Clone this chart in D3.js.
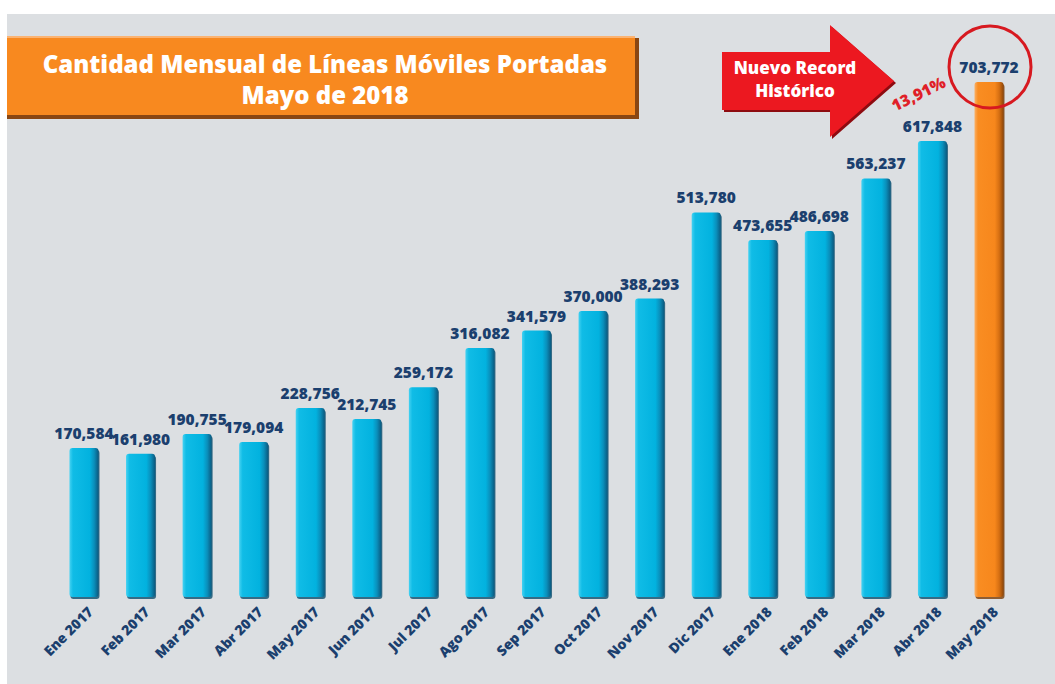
<!DOCTYPE html>
<html>
  <head>
    <meta charset="utf-8">
    <title>Cantidad Mensual de Líneas Móviles Portadas</title>
    <script src="https://d3js.org/d3.v7.min.js"></script>
    <style>
      body { margin: 0; background: #fff; }
      text { font-family: "Open Sans", "DejaVu Sans", sans-serif; font-weight: 800; }
    </style>
  </head>
  <body>
    <div id="chart"></div>
    <script>
      // datos
      var meses = ["Ene 2017", "Feb 2017", "Mar 2017", "Abr 2017", "May 2017", "Jun 2017",
                   "Jul 2017", "Ago 2017", "Sep 2017", "Oct 2017", "Nov 2017", "Dic 2017",
                   "Ene 2018", "Feb 2018", "Mar 2018", "Abr 2018", "May 2018"];
      var lineas = [170584, 161980, 190755, 179094, 228756, 212745, 259172, 316082, 341579,
                    370000, 388293, 513780, 473655, 486698, 563237, 617848, 703772];
      var titulo = ["Cantidad Mensual de Líneas Móviles Portadas", "Mayo de 2018"];
      var flecha = ["Nuevo Record", "Histórico"];
      var variacion = "13,91%";

      var W = 1055, H = 684;
      var piso = 597;

      var svg = d3.select("#chart")
        .append("svg")
        .attr("width", W)
        .attr("height", H);

      var defs = svg.append("defs");

      function degradado(id, stops) {
        var g = defs.append("linearGradient").attr("id", id)
          .attr("x1", "0").attr("x2", "1").attr("y1", "0").attr("y2", "0");
        stops.forEach(function(s) {
          g.append("stop").attr("offset", s[0]).attr("stop-color", s[1]);
        });
      }
      degradado("azul", [["0", "#45d2f2"], ["0.12", "#10bce6"], ["0.7", "#02b2df"], ["0.85", "#0a8fbb"], ["1", "#0b5a80"]]);
      degradado("naranja", [["0", "#fbb065"], ["0.12", "#f98d22"], ["0.7", "#f7871c"], ["0.85", "#d66f12"], ["1", "#8e4608"]]);

      // fondo
      svg.append("rect")
        .attr("x", 7).attr("y", 14)
        .attr("width", W - 7).attr("height", H - 14)
        .attr("fill", "#dcdfe2");

      var x = d3.scaleBand()
        .domain(meses)
        .range([55.7, 1017.3])
        .paddingInner(0.487)
        .paddingOuter(0.2435);

      var y = d3.scaleLinear()
        .domain([0, d3.max(lineas)])
        .range([565, 82]);

      var datos = meses.map(function(m, i) { return { mes: m, valor: lineas[i], ultimo: i === meses.length - 1 }; });

      // sombra de las barras
      svg.selectAll("rect.sombra")
        .data(datos)
        .enter()
        .append("rect")
        .attr("class", "sombra")
        .attr("x", function(d) { return x(d.mes) + 1; })
        .attr("y", function(d) { return y(d.valor) + 2; })
        .attr("width", x.bandwidth())
        .attr("height", function(d) { return piso - y(d.valor); })
        .attr("rx", 3)
        .attr("fill", function(d) { return d.ultimo ? "#7a3c08" : "#0b4d6e"; })
        .attr("opacity", 0.8);

      svg.selectAll("rect.barra")
        .data(datos)
        .enter()
        .append("rect")
        .attr("class", "barra")
        .attr("x", function(d) { return x(d.mes); })
        .attr("y", function(d) { return y(d.valor); })
        .attr("width", x.bandwidth())
        .attr("height", function(d) { return piso - y(d.valor); })
        .attr("rx", 3)
        .attr("fill", function(d) { return d.ultimo ? "url(#naranja)" : "url(#azul)"; });

      // valores
      svg.selectAll("text.valor")
        .data(datos)
        .enter()
        .append("text")
        .attr("class", "valor")
        .text(function(d) { return d3.format(",")(d.valor); })
        .attr("x", function(d) { return x(d.mes) + x.bandwidth() / 2; })
        .attr("y", function(d) { return y(d.valor) - 9; })
        .attr("text-anchor", "middle")
        .attr("font-size", "15.5px")
        .attr("fill", "#1b3f6e");

      // etiquetas del eje
      svg.selectAll("text.mes")
        .data(datos)
        .enter()
        .append("text")
        .attr("class", "mes")
        .text(function(d) { return d.mes; })
        .attr("transform", function(d) {
          return "translate(" + (x(d.mes) + x.bandwidth() / 2 + 10) + "," + (piso + 16) + ") rotate(-45)";
        })
        .attr("text-anchor", "end")
        .attr("font-size", "14px")
        .attr("fill", "#1b3f6e");

      // caja del titulo
      svg.append("rect")
        .attr("x", 7).attr("y", 38)
        .attr("width", 632).attr("height", 81)
        .attr("fill", "#8a4612");
      svg.append("rect")
        .attr("x", 7).attr("y", 36)
        .attr("width", 628).attr("height", 79)
        .attr("fill", "#f8891f");
      svg.append("rect")
        .attr("x", 7).attr("y", 36)
        .attr("width", 628).attr("height", 2)
        .attr("fill", "#fbb372");

      svg.selectAll("text.titulo")
        .data(titulo)
        .enter()
        .append("text")
        .attr("class", "titulo")
        .text(function(d) { return d; })
        .attr("x", 325)
        .attr("y", function(d, i) { return 73 + i * 31; })
        .attr("text-anchor", "middle")
        .attr("font-size", "24px")
        .attr("fill", "#ffffff");

      // flecha "Nuevo Record"
      var puntos = [[722, 52], [830, 52], [830, 25], [894, 81], [830, 137], [830, 110], [722, 110]];
      var linea = d3.line();
      svg.append("path")
        .attr("d", linea(puntos.map(function(p) { return [p[0] + 2, p[1] + 2]; })) + "Z")
        .attr("fill", "#8e0b10");
      svg.append("path")
        .attr("d", linea(puntos) + "Z")
        .attr("fill", "#ec1820");

      svg.selectAll("text.flecha")
        .data(flecha)
        .enter()
        .append("text")
        .attr("class", "flecha")
        .text(function(d) { return d; })
        .attr("x", 795)
        .attr("y", function(d, i) { return 74 + i * 23; })
        .attr("text-anchor", "middle")
        .attr("font-size", "17px")
        .attr("fill", "#ffffff");

      // variacion y circulo
      var ultimo = datos[datos.length - 1];
      var cx = x(ultimo.mes) + x.bandwidth() / 2 + 1;

      svg.append("text")
        .text(variacion)
        .attr("transform", "translate(921,99) rotate(-26)")
        .attr("text-anchor", "middle")
        .attr("font-size", "16px")
        .attr("fill", "#e01f28");

      svg.append("circle")
        .attr("cx", cx)
        .attr("cy", 67)
        .attr("r", 41)
        .attr("fill", "none")
        .attr("stroke", "#d71920")
        .attr("stroke-width", 3);
    </script>
  </body>
</html>
